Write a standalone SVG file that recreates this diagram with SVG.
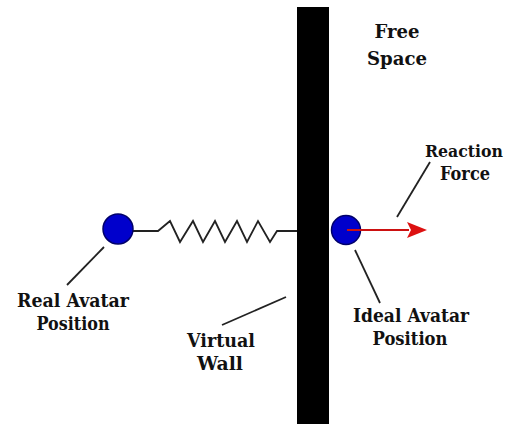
<svg xmlns="http://www.w3.org/2000/svg" width="513" height="424" viewBox="0 0 513 424">
<style>
.lbl{font-family:"DejaVu Serif","Liberation Serif",serif;font-weight:bold;font-size:18px;fill:#111;}
.ln{stroke:#222;stroke-width:1.8;fill:none;}
.ball{fill:#0000cc;stroke:#00006a;stroke-width:1.5;}
</style>
<rect width="513" height="424" fill="#fff"/>
<g id="wall"><rect x="297" y="7" width="32" height="417" fill="#000"/></g>
<g id="connectors">
<polyline class="ln" points="133,231 158,231 170,221 180,242 193,221 203,242 215,221 225,242 237,221 247,242 258,221 270,242 277,231 297,231"/>
<line class="ln" x1="104" y1="247" x2="67" y2="285"/>
<line class="ln" x1="286" y1="297" x2="222" y2="325"/>
<line class="ln" x1="355" y1="250" x2="380" y2="303"/>
<line class="ln" x1="430" y1="162" x2="397" y2="217"/>
</g>
<g id="real-avatar"><circle class="ball" cx="118" cy="229" r="15"/></g>
<g id="ideal-avatar"><circle class="ball" cx="346" cy="230" r="14.5"/></g>
<g id="reaction-arrow">
<line x1="347" y1="230" x2="409" y2="230" stroke="#cc1111" stroke-width="2"/>
<polygon points="407,222 427,230 407,238 411,230" fill="#dd1111"/>
</g>
<g id="label-free-space">
<text class="lbl" x="397" y="38" text-anchor="middle" textLength="45" lengthAdjust="spacingAndGlyphs">Free</text>
<text class="lbl" x="397" y="65" text-anchor="middle" textLength="60" lengthAdjust="spacingAndGlyphs">Space</text>
</g>
<g id="label-reaction-force">
<text class="lbl" x="464" y="157" text-anchor="middle" style="font-size:17px" textLength="78" lengthAdjust="spacingAndGlyphs">Reaction</text>
<text class="lbl" x="465" y="180" text-anchor="middle" textLength="50" lengthAdjust="spacingAndGlyphs">Force</text>
</g>
<g id="label-real-avatar">
<text class="lbl" x="73" y="307" text-anchor="middle" textLength="112" lengthAdjust="spacingAndGlyphs">Real Avatar</text>
<text class="lbl" x="73" y="330" text-anchor="middle" textLength="73" lengthAdjust="spacingAndGlyphs">Position</text>
</g>
<g id="label-virtual-wall">
<text class="lbl" x="221" y="347" text-anchor="middle" textLength="68" lengthAdjust="spacingAndGlyphs">Virtual</text>
<text class="lbl" x="220" y="370" text-anchor="middle" textLength="46" lengthAdjust="spacingAndGlyphs">Wall</text>
</g>
<g id="label-ideal-avatar">
<text class="lbl" x="411" y="322" text-anchor="middle" textLength="116" lengthAdjust="spacingAndGlyphs">Ideal Avatar</text>
<text class="lbl" x="410" y="345" text-anchor="middle" textLength="75" lengthAdjust="spacingAndGlyphs">Position</text>
</g>
</svg>
